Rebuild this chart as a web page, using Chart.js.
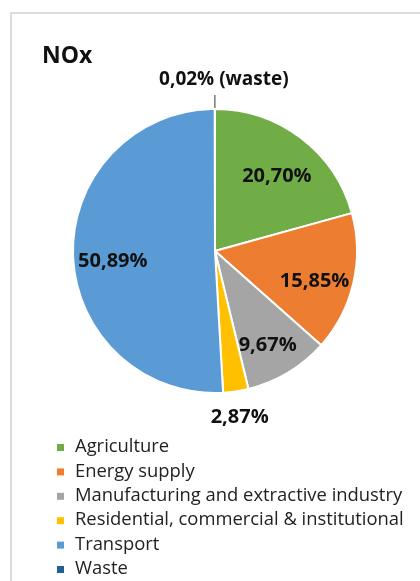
<!DOCTYPE html>
<html lang="en">
<head>
  <meta charset="UTF-8" />
  <title>NOx</title>
  <script src="https://cdn.jsdelivr.net/npm/chart.js"></script>
  <style>
    body {
      margin: 0;
      background-color: #fff;
      font-family: 'Open Sans', sans-serif;
    }
    .wrap {
      position: relative;
      width: 420px;
      height: 581px;
      overflow: hidden;
    }
    .frame {
      position: absolute;
      left: 10px;
      top: 12px;
      width: 440px;
      height: 600px;
      border: 2px solid #dcdcdc;
    }
    canvas {
      position: absolute;
      left: 0;
      top: 0;
    }
  </style>
</head>
<body>

  <div class="wrap">
    <div class="frame"></div>
    <canvas id="noxChart" width="420" height="581"></canvas>
  </div>

  <script>
    const chartTitle = "NOx";
    const sectors = [
      "Agriculture",
      "Energy supply",
      "Manufacturing and extractive industry",
      "Residential, commercial & institutional",
      "Transport",
      "Waste"
    ];
    const shares = [20.70, 15.85, 9.67, 2.87, 50.89, 0.02];
    const shareLabels = ["20,70%", "15,85%", "9,67%", "2,87%", "50,89%", "0,02% (waste)"];
    const sectorColors = ["#70ad47", "#ed7d31", "#a5a5a5", "#ffc000", "#5b9bd5", "#255e91"];

    // labels, title and the one-per-row legend are drawn here
    const labelPlugin = {
      id: 'noxLabels',
      afterDraw(chart) {
        const ctx = chart.ctx;
        const arcs = chart.getDatasetMeta(0).data;
        const drop = 7; // excel puts the label box a bit lower than the arc midpoint
        ctx.save();

        ctx.fillStyle = '#111';
        ctx.font = 'bold 23px "Open Sans"';
        ctx.textAlign = 'left';
        ctx.textBaseline = 'alphabetic';
        ctx.fillText(chartTitle, 42, 63);

        ctx.font = 'bold 20px "Open Sans"';
        ctx.textAlign = 'center';
        ctx.textBaseline = 'middle';
        arcs.forEach((arc, i) => {
          const p = arc.getProps(['x', 'y', 'startAngle', 'endAngle', 'outerRadius']);
          const mid = (p.startAngle + p.endAngle) / 2;
          const cos = Math.cos(mid), sin = Math.sin(mid);
          const v = shares[i];
          if (v >= 5) {
            const d = p.outerRadius * 0.72;
            ctx.fillText(shareLabels[i], p.x + cos * d, p.y + sin * d + drop);
          } else if (v >= 1) {
            const d = p.outerRadius + 26;
            ctx.fillText(shareLabels[i], p.x + cos * d, p.y + sin * d);
          } else {
            ctx.strokeStyle = '#333';
            ctx.lineWidth = 1;
            ctx.beginPath();
            ctx.moveTo(p.x + cos * (p.outerRadius + 1), p.y + sin * (p.outerRadius + 1));
            ctx.lineTo(p.x + cos * (p.outerRadius + 14), p.y + sin * (p.outerRadius + 14));
            ctx.stroke();
            const d = p.outerRadius + 29;
            ctx.font = 'bold 19px "Open Sans"';
            ctx.fillText(shareLabels[i], p.x + cos * d + 9, p.y + sin * d);
          }
        });

        ctx.font = '18.4px "Open Sans"';
        ctx.textAlign = 'left';
        sectors.forEach((name, i) => {
          const y = 447 + i * 24.4;
          ctx.fillStyle = sectorColors[i];
          ctx.fillRect(57, y - 3, 7, 7);
          ctx.fillStyle = '#222';
          ctx.fillText(name, 75, y);
        });
        ctx.restore();
      }
    };

    new Chart(document.getElementById('noxChart'), {
      type: 'pie',
      data: {
        labels: sectors,
        datasets: [{
          data: shares,
          backgroundColor: sectorColors,
          borderColor: '#fff',
          borderWidth: 2
        }]
      },
      options: {
        responsive: false,
        animation: false,
        layout: { padding: { left: 72, right: 62, top: 108, bottom: 187 } },
        plugins: {
          legend: { display: false },
          tooltip: { enabled: false }
        }
      },
      plugins: [labelPlugin]
    });
  </script>
</body>
</html>
